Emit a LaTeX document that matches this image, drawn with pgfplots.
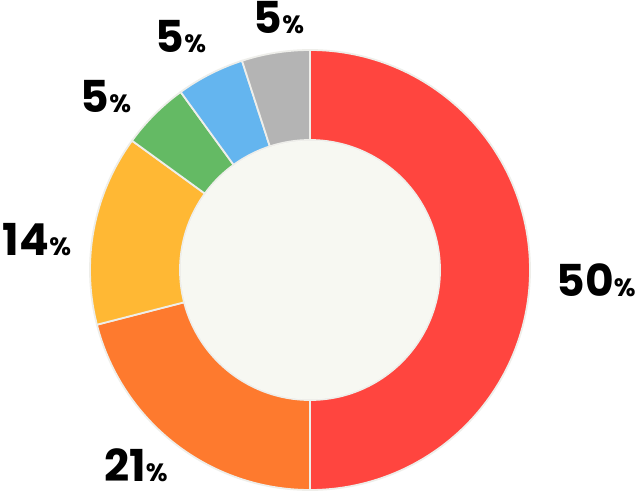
\documentclass[border=0pt]{standalone}
\usepackage{pgfplots}
\pgfplotsset{compat=1.18}
\usetikzlibrary{calc}
\usepackage{fontspec}
\setmainfont{Poppins}

\definecolor{cRed}{HTML}{FF453F}
\definecolor{cOrange}{HTML}{FE7A2E}
\definecolor{cYellow}{HTML}{FFB834}
\definecolor{cGreen}{HTML}{64BA64}
\definecolor{cBlue}{HTML}{64B5EF}
\definecolor{cGray}{HTML}{B4B4B4}
\definecolor{cInner}{HTML}{F7F8F2}
\definecolor{cEdge}{HTML}{EEEEEA}

% slice from #1 % to #2 % (clockwise from top), colour #3
\newcommand\slice[3]{%
  \filldraw[fill=#3, draw=cEdge, line width=0.9pt]
    ($(c)+({90-3.6*#1}:110pt)$) arc[start angle={90-3.6*#1}, end angle={90-3.6*#2}, radius=110pt]
    -- ($(c)+({90-3.6*#2}:65pt)$) arc[start angle={90-3.6*#2}, end angle={90-3.6*#1}, radius=65pt]
    -- cycle;}
\newcommand\pct[1]{{\bfseries\fontsize{22}{22}\selectfont #1\fontsize{12.5}{13}\selectfont\%}}

\begin{document}
\begin{tikzpicture}
\begin{axis}[
    x=0.5pt, y=0.5pt,
    xmin=0, xmax=636, ymin=0, ymax=493,
    hide axis, clip=false,
  ]
  \coordinate (ll) at (axis cs:0,0);
  \coordinate (ur) at (axis cs:636,493);
  \coordinate (c) at (axis cs:310,223);

  % shares: 50, 21, 14, 5, 5, 5
  \slice{0}{50}{cRed}
  \slice{50}{71}{cOrange}
  \slice{71}{85}{cYellow}
  \slice{85}{90}{cGreen}
  \slice{90}{95}{cBlue}
  \slice{95}{100}{cGray}
  \fill[cInner] (c) circle[radius=64.5pt];

  \node at (axis cs:596,213) {\pct{50}};
  \node at (axis cs:136,28) {\pct{21}};
  \node at (axis cs:37,253) {\pct{14}};
  \node at (axis cs:106,396) {\pct{5}};
  \node at (axis cs:181,456) {\pct{5}};
  \node at (axis cs:279,475) {\pct{5}};
\end{axis}
\pgfresetboundingbox
\useasboundingbox (ll) rectangle (ur);
\end{tikzpicture}
\end{document}
